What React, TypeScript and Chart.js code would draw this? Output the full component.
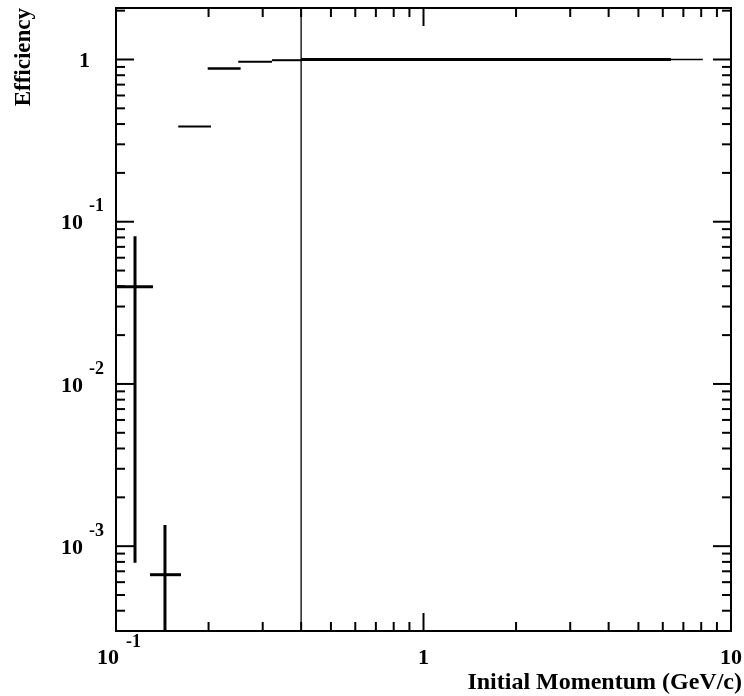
import React, { useEffect, useRef } from "react";
import { Chart, registerables } from "chart.js";

Chart.register(...registerables);

// ---- axis ranges ----
const xRange = [0.1, 10];
const yRange = [3.27e-4, 2.077];

// ---- histogram bins (efficiency vs initial momentum) ----
const binLow = [0.1, 0.129, 0.1594, 0.1987, 0.2498, 0.3216, 0.4, 6.38];
const binHigh = [0.1319, 0.1627, 0.2036, 0.2543, 0.3216, 0.4, 6.38, 8.1];
const binValue = [0.0397, 0.000667, 0.386, 0.881, 0.968, 0.99, 1.0, 1.0];
const binLineWidths = [3, 3, 2, 2.5, 2, 2, 3, 1.5];

// ---- error bars ----
const errX = [0.1153, 0.1443];
const errLow = [0.00079, 0.000001];
const errHigh = [0.0815, 0.00135];

// ---- vertical marker line ----
const markerX = [0.4];

// ---- ticks ----
const xMajorTicks = [0.1, 1, 10];
const xMinorTicks = [0.2, 0.3, 0.4, 0.5, 0.6, 0.7, 0.8, 0.9, 2, 3, 4, 5, 6, 7, 8, 9];
const yMajorTicks = [0.001, 0.01, 0.1, 1];
const yMinorTicks = [
  0.0004, 0.0005, 0.0006, 0.0007, 0.0008, 0.0009,
  0.002, 0.003, 0.004, 0.005, 0.006, 0.007, 0.008, 0.009,
  0.02, 0.03, 0.04, 0.05, 0.06, 0.07, 0.08, 0.09,
  0.2, 0.3, 0.4, 0.5, 0.6, 0.7, 0.8, 0.9, 2,
];
const xTickValues = [0.1, 1, 10];
const xTickBase = ["10", "1", "10"];
const xTickExp = ["-1", "", ""];
const yTickValues = [1, 0.1, 0.01, 0.001];
const yTickBase = ["1", "10", "10", "10"];
const yTickExp = ["", "-1", "-2", "-3"];

const xTitle = "Initial Momentum (GeV/c)";
const yTitle = "Efficiency";

const FONT = '"Liberation Serif", "DejaVu Serif", serif';

const rootFramePlugin = {
  id: "rootFrame",
  afterDatasetsDraw(chart: any) {
    const { ctx, chartArea: a, scales } = chart;
    const xs = scales.x;
    const ys = scales.y;
    ctx.save();
    ctx.strokeStyle = "#000";
    ctx.fillStyle = "#000";
    ctx.lineWidth = 2;
    ctx.strokeRect(a.left, a.top, a.right - a.left, a.bottom - a.top);
    const seg = (x1: number, y1: number, x2: number, y2: number) => {
      ctx.beginPath();
      ctx.moveTo(x1, y1);
      ctx.lineTo(x2, y2);
      ctx.stroke();
    };
    const major = 18;
    const minor = 9;
    xMajorTicks.forEach((v) => {
      const p = xs.getPixelForValue(v);
      seg(p, a.bottom, p, a.bottom - major);
      seg(p, a.top, p, a.top + major);
    });
    xMinorTicks.forEach((v) => {
      const p = xs.getPixelForValue(v);
      seg(p, a.bottom, p, a.bottom - minor);
      seg(p, a.top, p, a.top + minor);
    });
    yMajorTicks.forEach((v) => {
      const p = ys.getPixelForValue(v);
      seg(a.left, p, a.left + major, p);
      seg(a.right, p, a.right - major, p);
    });
    yMinorTicks.forEach((v) => {
      const p = ys.getPixelForValue(v);
      if (p < a.top || p > a.bottom) return;
      seg(a.left, p, a.left + minor, p);
      seg(a.right, p, a.right - minor, p);
    });

    // tick labels
    const baseFont = `bold 22px ${FONT}`;
    const expFont = `bold 18px ${FONT}`;
    ctx.textBaseline = "middle";
    yTickValues.forEach((v, i) => {
      const p = ys.getPixelForValue(v);
      if (yTickExp[i]) {
        ctx.font = baseFont;
        ctx.textAlign = "right";
        ctx.fillText(yTickBase[i], a.left - 33, p + 2);
        ctx.font = expFont;
        ctx.textAlign = "left";
        ctx.fillText(yTickExp[i], a.left - 27, p - 15);
      } else {
        ctx.font = baseFont;
        ctx.textAlign = "right";
        ctx.fillText(yTickBase[i], a.left - 26, p + 2);
      }
    });
    xTickValues.forEach((v, i) => {
      const p = xs.getPixelForValue(v);
      if (xTickExp[i]) {
        ctx.font = baseFont;
        ctx.textAlign = "right";
        ctx.fillText(xTickBase[i], p + 3, a.bottom + 27);
        ctx.font = expFont;
        ctx.textAlign = "left";
        ctx.fillText(xTickExp[i], p + 10, a.bottom + 11);
      } else {
        ctx.font = baseFont;
        ctx.textAlign = "center";
        ctx.fillText(xTickBase[i], p, a.bottom + 27);
      }
    });

    // axis titles
    ctx.font = `bold 24px ${FONT}`;
    ctx.textAlign = "right";
    ctx.textBaseline = "middle";
    ctx.fillText(xTitle, 742, a.bottom + 52);
    ctx.save();
    ctx.font = `bold 23px ${FONT}`;
    ctx.translate(24, 8);
    ctx.rotate(-Math.PI / 2);
    ctx.textAlign = "right";
    ctx.textBaseline = "middle";
    ctx.fillText(yTitle, 0, 0);
    ctx.restore();
    ctx.restore();
  },
};

export default function App() {
  const ref = useRef<HTMLCanvasElement | null>(null);
  useEffect(() => {
    if (!ref.current) return;
    const datasets: any[] = [];
    const common = {
      borderColor: "#000",
      backgroundColor: "#000",
      pointRadius: 0,
      showLine: true,
      borderCapStyle: "butt",
      tension: 0,
    };
    binValue.forEach((v, i) => {
      datasets.push({
        ...common,
        borderWidth: binLineWidths[i],
        data: [
          { x: binLow[i], y: v },
          { x: binHigh[i], y: v },
        ],
      });
    });
    errX.forEach((x, i) => {
      datasets.push({
        ...common,
        borderWidth: 3,
        data: [
          { x, y: errLow[i] },
          { x, y: errHigh[i] },
        ],
      });
    });
    markerX.forEach((x) => {
      datasets.push({
        ...common,
        borderColor: "#222",
        borderWidth: 1.5,
        data: [
          { x, y: yRange[0] },
          { x, y: yRange[1] },
        ],
      });
    });
    const chart = new Chart(ref.current, {
      type: "scatter",
      data: { datasets },
      options: {
        animation: false,
        responsive: false,
        events: [],
        layout: { padding: { left: 116, right: 13, top: 8, bottom: 65 } },
        plugins: { legend: { display: false }, tooltip: { enabled: false } },
        scales: {
          x: { type: "logarithmic", min: xRange[0], max: xRange[1], display: false },
          y: { type: "logarithmic", min: yRange[0], max: yRange[1], display: false },
        },
      } as any,
      plugins: [rootFramePlugin],
    });
    return () => chart.destroy();
  }, []);
  return (
    <div style={{ position: "absolute", left: 0, top: 0, width: 744, height: 696, background: "#fff" }}>
      <canvas ref={ref} width={744} height={696} style={{ display: "block" }} />
    </div>
  );
}
